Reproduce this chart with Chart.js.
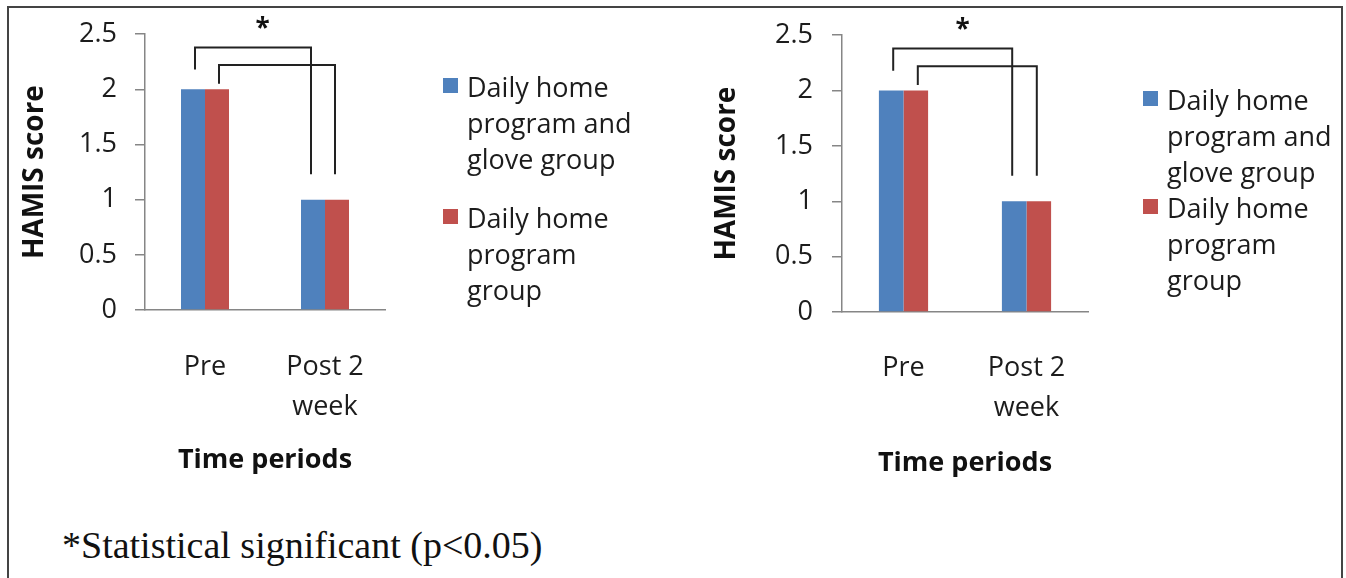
<!DOCTYPE html>
<html>
<head>
<meta charset="utf-8">
<script src="https://cdn.jsdelivr.net/npm/chart.js@4"></script>
<style>
  body { margin: 0; background: #fff; width: 1346px; height: 578px; overflow: hidden; position: relative; }
  .frame { position: absolute; left: 7px; top: 6px; width: 1332px; height: 600px; border: 2px solid #444; border-bottom: none; }
  .box { position: absolute; top: 0; }
  #boxLeft { left: 0; width: 680px; height: 490px; }
  #boxRight { left: 695px; width: 651px; height: 490px; }
  .note { position: absolute; left: 62px; top: 526px; font: 38px/38px "Liberation Serif", serif; color: #111; white-space: nowrap; }
</style>
</head>
<body>
<div class="frame"></div>
<div class="box" id="boxLeft"><canvas id="chartLeft"></canvas></div>
<div class="box" id="boxRight"><canvas id="chartRight"></canvas></div>
<div class="note">*Statistical significant (p&lt;0.05)</div>

<script>
// data
const periods = ['Pre', ['Post 2', 'week']];
const gloveGroup = [2, 1];
const homeGroup = [2, 1];
const groupNames = ['Daily home program and glove group', 'Daily home program group'];
const legendLines = [
    ['Daily home', 'program and', 'glove group'],
    ['Daily home', 'program', 'group']
];
const yMin = 0;
const yMax = 2.5;
const yStep = 0.5;

// significance brackets: [top, left foot, right foot] in score units
const bracketLevels = [
    [2.38, 2.18, 1.23],
    [2.22, 2.05, 1.23]
];

const BLUE = '#4F81BD';
const RED = '#C0504D';
const AXIS = '#868686';
const TEXT = '#1c1c1c';
const FONT = '"Open Sans", sans-serif';

// draws the two brackets and the asterisk above the bars
const bracketPlugin = {
    id: 'brackets',
    afterDatasetsDraw(chart) {
        const ctx = chart.ctx;
        const y = chart.scales.y;
        ctx.save();
        ctx.strokeStyle = '#222';
        ctx.lineWidth = 2;
        bracketLevels.forEach((lv, ds) => {
            const bars = chart.getDatasetMeta(ds).data;
            const x0 = bars[0].x + 2, x1 = bars[1].x - 2;
            ctx.beginPath();
            ctx.moveTo(x0, y.getPixelForValue(lv[1]));
            ctx.lineTo(x0, y.getPixelForValue(lv[0]));
            ctx.lineTo(x1, y.getPixelForValue(lv[0]));
            ctx.lineTo(x1, y.getPixelForValue(lv[2]));
            ctx.stroke();
        });
        const b = chart.getDatasetMeta(0).data;
        const sx = b[0].x + 0.58 * (b[1].x - b[0].x);
        ctx.fillStyle = '#111';
        ctx.font = 'bold 26px ' + FONT;
        ctx.textAlign = 'center';
        ctx.textBaseline = 'alphabetic';
        ctx.fillText('*', sx, y.getPixelForValue(bracketLevels[0][0]) - 10);
        ctx.restore();
    }
};

// legend with wrapped text, placed to the right of the plot
const sideLegend = {
    id: 'sideLegend',
    afterDraw(chart, args, opts) {
        const ctx = chart.ctx;
        const x = chart.chartArea.right + opts.dx;
        let base = opts.top;
        ctx.save();
        ctx.font = '27px ' + FONT;
        ctx.textAlign = 'left';
        ctx.textBaseline = 'alphabetic';
        chart.data.datasets.forEach((ds, i) => {
            ctx.fillStyle = ds.backgroundColor;
            ctx.fillRect(x, base - 19, 15, 15);
            ctx.fillStyle = TEXT;
            legendLines[i].forEach((line, k) => {
                ctx.fillText(line, x + 24, base + k * 36);
            });
            base += (legendLines[i].length - 1) * 36 + opts.gap;
        });
        ctx.restore();
    }
};

const makeChart = (id, cfg) => {
    const ctx = document.getElementById(id).getContext('2d');
    return new Chart(ctx, {
        type: 'bar',
        data: {
            labels: periods,
            datasets: [
                { label: groupNames[0], data: gloveGroup, backgroundColor: BLUE },
                { label: groupNames[1], data: homeGroup, backgroundColor: RED }
            ]
        },
        options: {
            responsive: true,
            maintainAspectRatio: false,
            animation: false,
            datasets: {
                bar: { barPercentage: 1, categoryPercentage: 0.4 }
            },
            layout: {
                padding: { left: 0, top: cfg.top, right: cfg.right, bottom: 0 }
            },
            plugins: {
                legend: { display: false },
                tooltip: { enabled: false },
                sideLegend: cfg.legend
            },
            scales: {
                x: {
                    grid: { display: false },
                    border: { display: true, color: AXIS, width: 1.5 },
                    ticks: {
                        color: TEXT,
                        padding: cfg.xPad,
                        maxRotation: 0,
                        font: { family: FONT, size: 27, lineHeight: 1.48 }
                    },
                    title: {
                        display: true,
                        text: 'Time periods',
                        color: '#111',
                        font: { family: FONT, size: 27, weight: 'bold' },
                        padding: { top: 0, bottom: cfg.xTitlePad }
                    },
                    afterFit: (scale) => { scale.height = cfg.xHeight; }
                },
                y: {
                    min: yMin,
                    max: yMax,
                    grid: { drawOnChartArea: false, drawTicks: true, tickLength: 10, color: AXIS, lineWidth: 1.5 },
                    border: { display: true, color: AXIS, width: 1.5 },
                    ticks: {
                        stepSize: yStep,
                        color: TEXT,
                        padding: cfg.yPad,
                        font: { family: FONT, size: 27 },
                        callback: (v) => String(v)
                    },
                    title: {
                        display: true,
                        text: 'HAMIS score',
                        color: '#111',
                        font: { family: FONT, size: 28, weight: 'bold' },
                        padding: { top: cfg.yTitlePad, bottom: 0 }
                    },
                    afterFit: (scale) => { scale.width = cfg.yWidth; }
                }
            }
        },
        plugins: [bracketPlugin, sideLegend]
    });
};

makeChart('chartLeft', {
    top: 29, right: 295, xHeight: 180, xPad: 29, xTitlePad: 13,
    yWidth: 145, yPad: 18, yTitlePad: 18,
    legend: { dx: 58, top: 97, gap: 59 }
});

makeChart('chartRight', {
    top: 32, right: 258, xHeight: 178, xPad: 28, xTitlePad: 10,
    yWidth: 147, yPad: 19, yTitlePad: 15,
    legend: { dx: 55, top: 110, gap: 36 }
});
</script>
</body>
</html>
